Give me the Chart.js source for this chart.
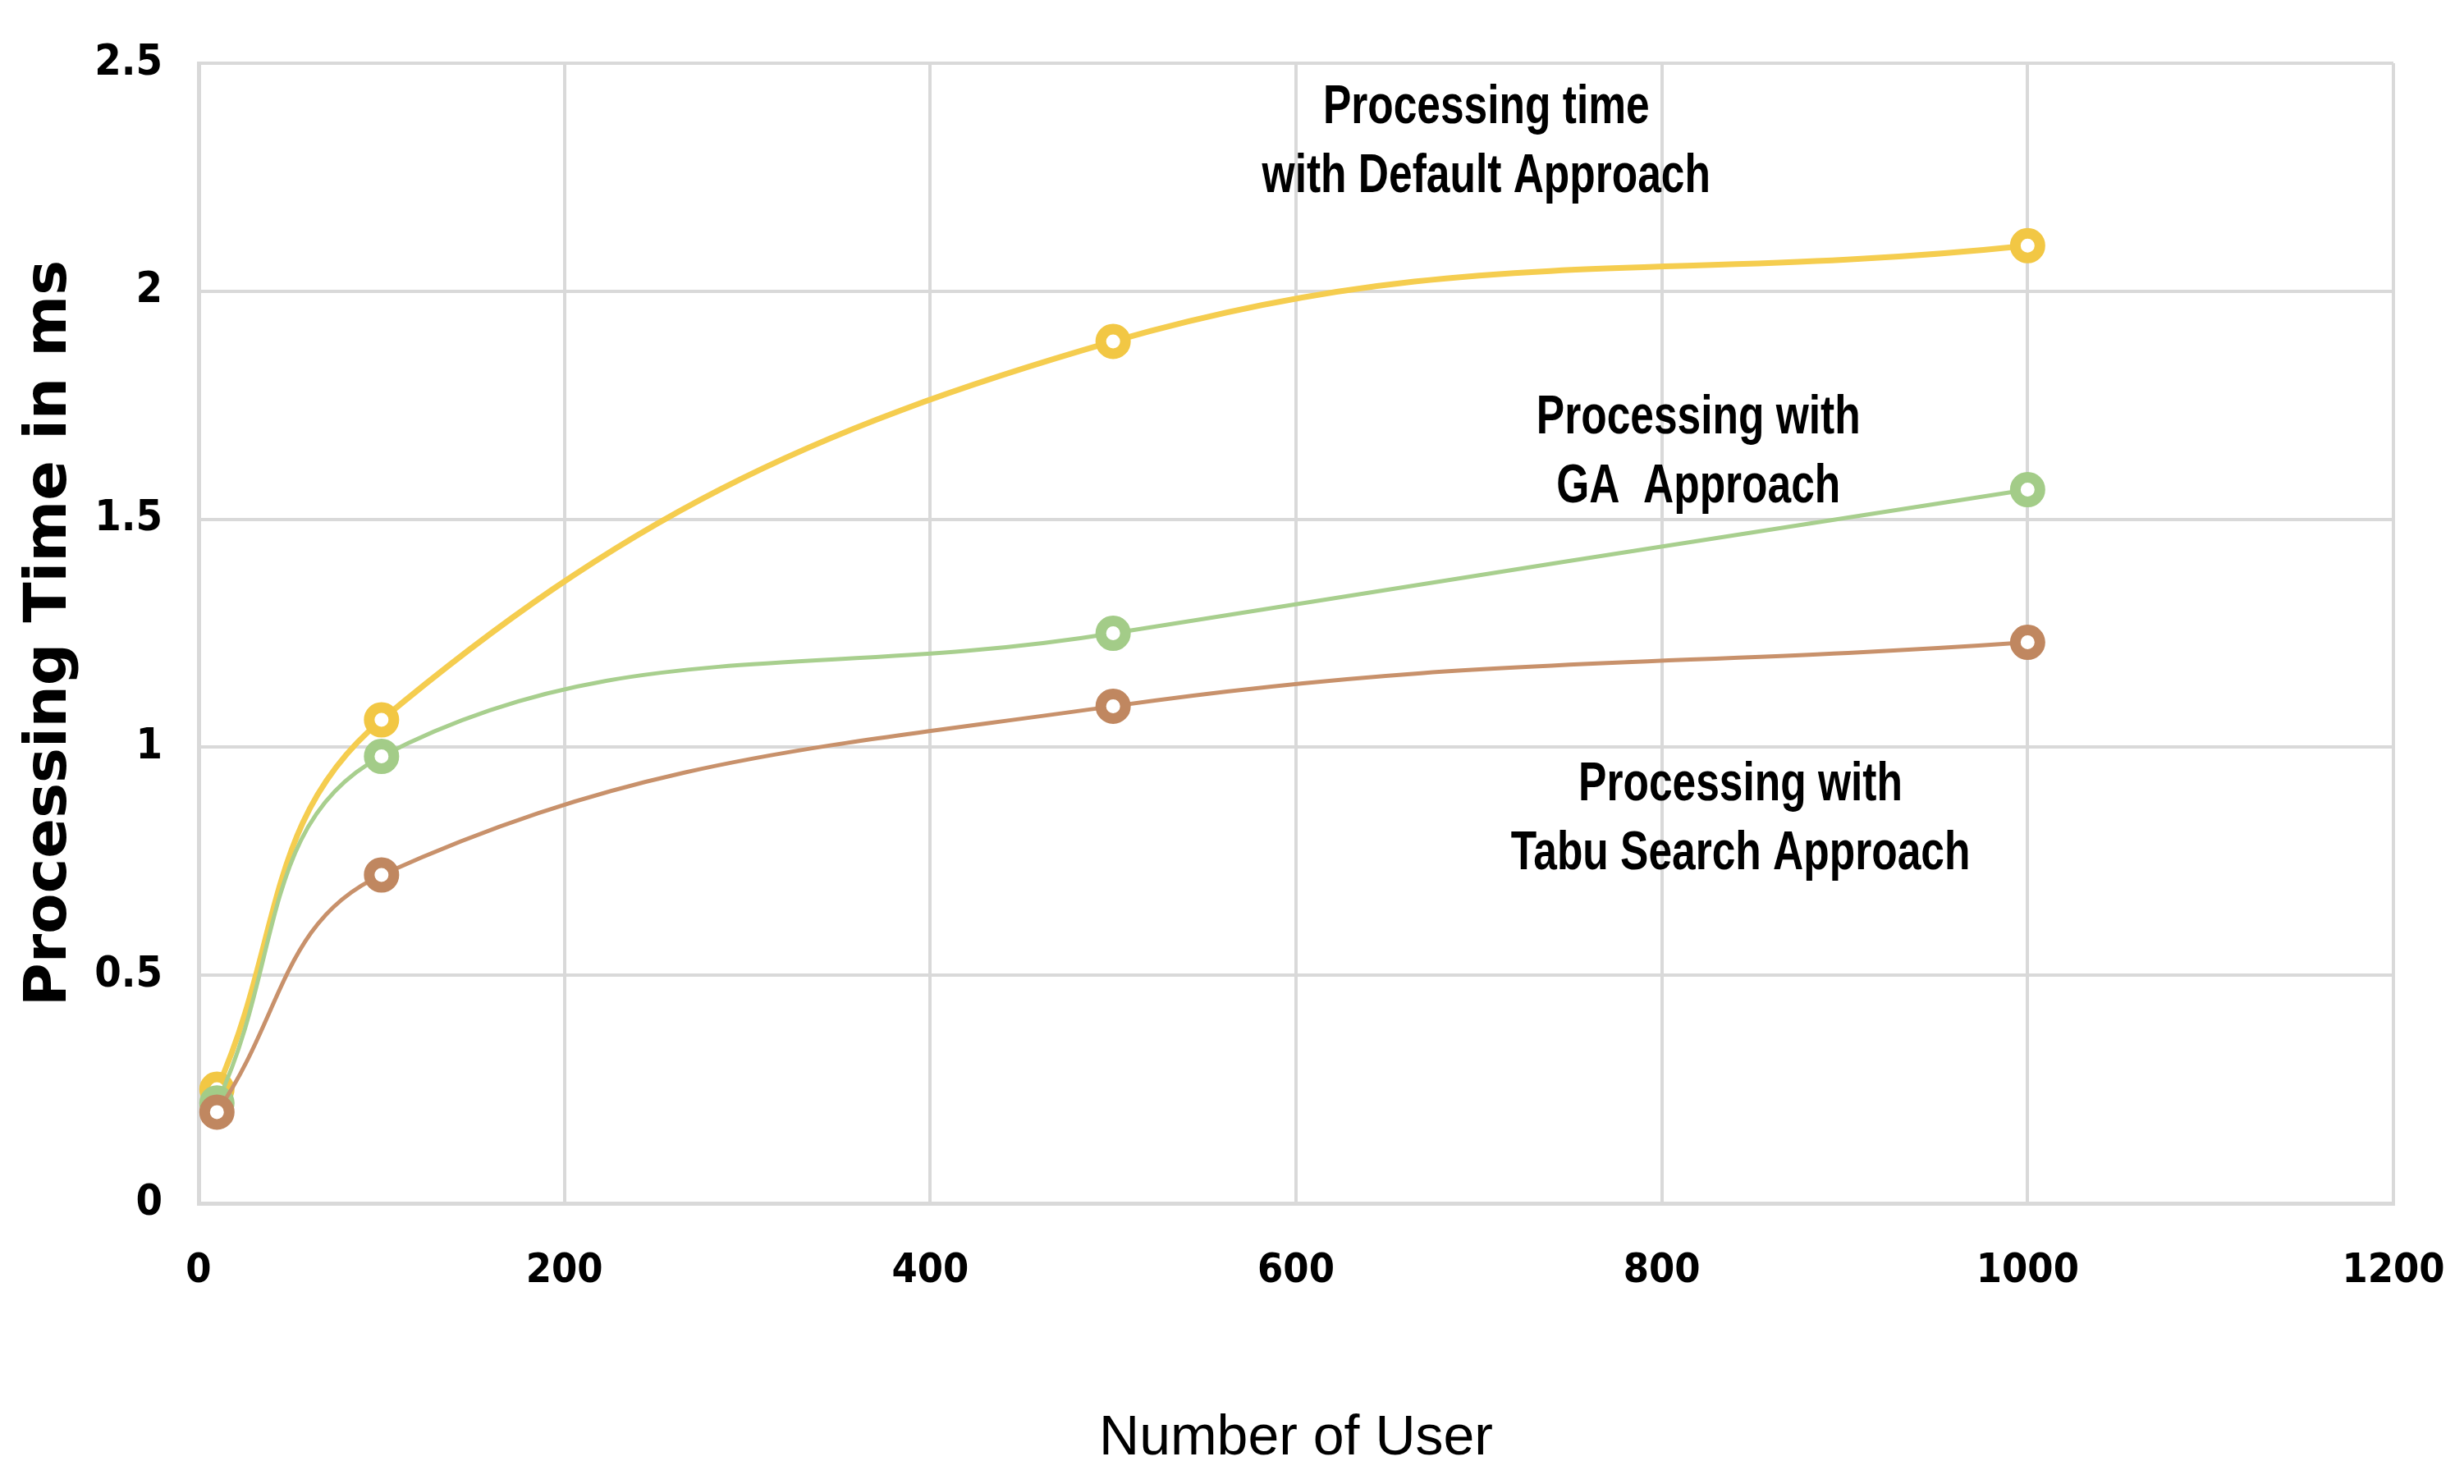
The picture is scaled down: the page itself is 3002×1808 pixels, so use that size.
<!DOCTYPE html>
<html>
<head>
<meta charset="utf-8">
<script src="https://cdn.jsdelivr.net/npm/chart.js@4.4.1/dist/chart.umd.min.js"></script>
<style>
  html, body { margin: 0; padding: 0; background: #fff; }
  #wrap { width: 3002px; height: 1808px; position: relative; }
</style>
</head>
<body>
<div id="wrap"><canvas id="chart"></canvas></div>
<script>
// number of users on the x axis
const users = [10, 100, 500, 1000];

// processing time in ms
const defaultTime = [0.25, 1.06, 1.89, 2.10];
const gaTime = [0.22, 0.98, 1.25, 1.565];
const tabuTime = [0.20, 0.72, 1.09, 1.23];

const seriesNames = ['Processing time with Default Approach', 'Processing with GA Approach', 'Processing with Tabu Search Approach'];

// in-plot labels (text lines and their place in data units)
const labelLines = [
    ['Processing time', 'with Default Approach'],
    ['Processing with', 'GA  Approach'],
    ['Processing with', 'Tabu Search Approach'],
];
const labelX = [704, 820, 843];
const labelY = [2.325, 1.645, 0.84];

const narrow = "'Liberation Sans Narrow', 'DejaVu Sans Condensed', 'Liberation Sans', sans-serif";
const plain = "'Liberation Sans', Arial, sans-serif";

const toPoints = (ys) => users.map((u, i) => ({ x: u, y: ys[i] }));

// draws the text labels that sit inside the plot, squeezed like a narrow face
const seriesLabels = {
    id: 'seriesLabels',
    afterDatasetsDraw(chart) {
        const { ctx, scales } = chart;
        const squeeze = 0.78;
        const lineGap = 84;
        ctx.save();
        ctx.fillStyle = '#000';
        ctx.font = 'bold 66px ' + plain;
        ctx.textAlign = 'center';
        ctx.textBaseline = 'middle';
        labelLines.forEach((lines, i) => {
            const cx = scales.x.getPixelForValue(labelX[i]);
            const cy = scales.y.getPixelForValue(labelY[i]);
            lines.forEach((t, j) => {
                ctx.save();
                ctx.translate(cx, cy + (j - (lines.length - 1) / 2) * lineGap);
                ctx.scale(squeeze, 1);
                ctx.fillText(t, 0, 0);
                ctx.restore();
            });
        });
        ctx.restore();
    }
};

const markerStyle = { pointRadius: 15, pointBorderWidth: 13, pointBackgroundColor: '#fff', pointStyle: 'circle' };

new Chart(document.getElementById('chart'), {
    type: 'line',
    data: {
        datasets: [
            {
                label: seriesNames[0],
                data: toPoints(defaultTime),
                borderColor: '#F5CD4F',
                borderWidth: 7,
                pointBorderColor: '#F2C744',
                ...markerStyle,
                order: 3,
            },
            {
                label: seriesNames[1],
                data: toPoints(gaTime),
                borderColor: '#A8CF8E',
                borderWidth: 5,
                pointBorderColor: '#A3CC88',
                ...markerStyle,
                order: 2,
            },
            {
                label: seriesNames[2],
                data: toPoints(tabuTime),
                borderColor: '#C8916B',
                borderWidth: 5,
                pointBorderColor: '#C08760',
                ...markerStyle,
                order: 1,
            },
        ]
    },
    options: {
        responsive: true,
        maintainAspectRatio: false,
        devicePixelRatio: 1,
        animation: false,
        elements: {
            line: { tension: 0.4, cubicInterpolationMode: 'default' },
        },
        layout: {
            padding: { left: 0, right: 0, top: 77, bottom: 0 },
        },
        plugins: {
            legend: { display: false },
            tooltip: { enabled: false },
        },
        scales: {
            x: {
                type: 'linear',
                min: 0,
                max: 1200,
                ticks: {
                    stepSize: 200,
                    padding: 58,
                    color: '#000',
                    font: { family: narrow, size: 50, weight: 'bold', lineHeight: 1 },
                    callback: (v) => String(v),
                },
                grid: { color: '#D9D9D9', lineWidth: 4, drawTicks: false },
                border: { color: '#D9D9D9', width: 5 },
                title: {
                    display: true,
                    text: 'Number of User',
                    color: '#000',
                    font: { family: plain, size: 68, lineHeight: 1.2 },
                    padding: { top: 0, bottom: 14 },
                },
                afterFit: (scale) => {
                    scale.height = 342;
                    scale.paddingLeft = 0;
                    scale.paddingRight = 86;
                },
            },
            y: {
                min: 0,
                max: 2.5,
                ticks: {
                    stepSize: 0.5,
                    padding: 44,
                    color: '#000',
                    font: { family: narrow, size: 52, weight: 'bold', lineHeight: 1 },
                    callback: (v) => String(v),
                },
                grid: { color: '#D9D9D9', lineWidth: 4, drawTicks: false },
                border: { color: '#D9D9D9', width: 5 },
                title: {
                    display: true,
                    text: 'Processing Time in ms',
                    color: '#000',
                    font: { family: "'DejaVu Sans', sans-serif", size: 72, weight: 'bold', lineHeight: 1.2 },
                    padding: { top: 18, bottom: 0 },
                },
                afterFit: (scale) => { scale.width = 242; },
            }
        }
    },
    plugins: [seriesLabels],
});
</script>
</body>
</html>
